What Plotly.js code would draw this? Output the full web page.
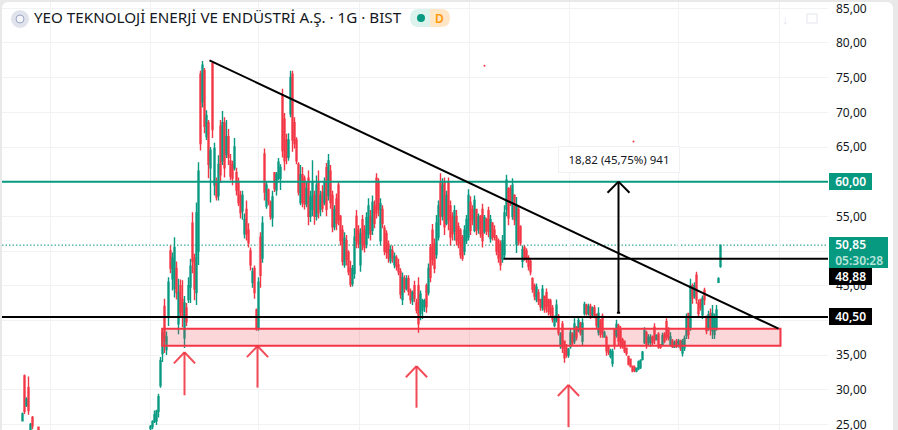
<!DOCTYPE html>
<html><head><meta charset="utf-8">
<script src="https://cdn.plot.ly/plotly-3.0.1.min.js"></script>
<style>
html,body{margin:0;padding:0;background:#e9e9ea;overflow:hidden;width:898px;height:430px}
#panel{position:absolute;left:2px;top:2px;width:891px;height:440px;background:#fff;border-radius:6px}
#chart{position:absolute;left:0;top:0;width:898px;height:430px}
</style></head><body>
<div id="panel"></div><div id="chart"></div>
<script>
// ---- values ----
const titleText = "YEO TEKNOLOJİ ENERJİ VE ENDÜSTRİ A.Ş. · 1G · BIST";
const measureText = "18,82 (45,75%) 941";

const earlySlots = [-64,-63,-62,-61,-60,-59,-56];
const earlyOpen  = [25.5,32,27.7,30.3,24.2,26,24.6];
const earlyHigh  = [26.7,32.2,28.9,31.9,25.2,26.2,24.7];
const earlyLow   = [25.4,26.5,27.5,26.4,24,24.3,24.1];
const earlyClose = [26.5,26.9,28.6,27,25,24.8,24.2];

const opens = [
24.4,24.7,25.4,25.5,26.9,30.6,35.2,42,35.8,40.6,
50,46,44.6,47.5,39.5,45,43,37.5,41.8,43,
44.8,54,49,44,50,75.5,71.5,76,66.5,68.5,
62,77,59.5,60,58,68,63,68.5,64,66.5,
63,62.5,62,61.3,60,58,55.8,52.5,56,53,
50,45.5,47.5,41.5,39,52,49,64,56.5,58.8,
57,54.8,61.3,58.8,60.5,60.5,72.5,69,66,63.5,
69.8,75.5,68.5,66,62.5,57,61,60.5,56.8,60.5,
55,56,58,55,60,56,58.5,57,62,58,
61.5,58,53.5,57.5,59.5,55,53,48,51.5,49.8,
47.5,45.3,46.8,55,53,48,54.5,53,51,52.5,
55,53,56.5,60.5,60,51.5,56,53.3,52.5,51,
48.6,50,48,49,48,47,43,46,44.6,46,
44.2,42.8,45,42.5,45,41,41.5,42,45,44,
50.5,53,51,49.5,52,60,55,60,54,60,
56.5,55,52.8,55,53.5,53,52,50,51.5,52,
57,56,53,56,53.2,55,56,52.8,54.5,55.8,
51.8,54,53,52,51.5,51,48.8,49.5,56,59,
59,55,58,51,56,53.5,48.5,50.5,50,49,
48.5,46,45,43,44,43,41.8,43.5,44,43,
42.8,41.8,39.3,40,40.6,36.3,39.5,37,36,35,
36.2,38,37,39,38.6,39.6,37,41,42.2,41,
42,40.8,41.8,40.8,38.3,40,40.6,37.6,37.5,36.2,
34.8,33.8,38.5,37.8,39.2,38.5,37.2,37,36,34.8,
34.4,33.4,33.2,32.7,33,33.2,34.4,36.8,38.2,36.8,
36.8,37.6,39,37.2,38,36.5,36.5,38,39.8,38.5,
36.5,37,36.2,37,36.3,37,35.3,36,37.8,41,
39,45,43.5,46.5,42.5,43,40.8,44.3,40.5,38.8,
41,38.5,38,39,45.5,47.8];

const highs = [
24.9,25.6,27,27.1,29.4,34.7,38.9,43.1,38.4,46.2,
50.8,49.8,52,48.5,46,45.9,45.8,43.5,42.5,46.2,
48.9,55.6,49.6,57,62.8,76,77.4,76.4,70.3,68.9,
65,77.4,65.6,60.6,63.8,68.9,70.2,69.3,68.9,67.6,
64,63,66.3,62,60.6,58.7,58.7,55.4,57.3,54,
50.5,47.6,47.9,41.7,46.2,52.7,55,64.8,60,59,
57.3,58.7,61.4,61.4,63.4,62.5,73.4,69.9,66.9,67,
76,76,69.3,66.4,62.8,62.4,62.1,60.9,59.9,61.6,
58.7,63.1,58.7,60.9,61.6,58.7,59.5,60.6,62.7,64,
62.4,58.7,56.6,58.3,60,55.2,53.7,52.7,52.3,50.1,
48.6,48,53.3,55.9,53.7,53.3,55.2,53.7,55.6,57.6,
55.9,58,57.3,61.2,60.5,57.6,56.6,53.7,53,51.5,
50.8,50.8,49.8,49.4,48.9,47.5,46.9,46.5,46.5,46.5,
44.6,44.3,45.7,43.1,46.2,44.3,43.1,43.1,45.3,48.2,
51,53.9,51.8,55.2,57.3,61.2,60.5,60.6,58.7,60.6,
57.3,55.6,56.6,55.9,54.1,53.3,52.3,53.7,55.2,58.9,
57.9,56.6,58,56.1,55.4,55.2,56.8,55.2,54.8,56.4,
55.2,54.2,53.7,52.3,51.8,51.5,52.3,56.6,61,59.2,
59.5,60.5,58.2,57.8,56.6,53.7,50.8,50.8,50.4,49.4,
48.9,46.2,45.3,45.3,44.5,43.1,45.1,43.6,44.6,43.1,
43.1,42.2,40.7,43,40.9,38.3,39.9,37.1,36.6,36,
38.8,38.3,40.3,39.2,40.4,39.8,40.3,42.7,42.4,42.4,
42.4,42,42.2,41,41.9,40.2,41,38.5,37.8,36.5,
35.9,35.9,38.8,40.1,39.5,39.2,37.5,37.1,36,34.9,
34.5,33.5,33.5,33.2,34.2,34.4,35.6,39,38.5,38,
38,37.8,39.6,38,38.3,36.6,38.2,38.3,40.3,39,
38.3,37.3,37.1,37.3,37.3,37.2,37.3,37.8,41,41.1,
46,45.3,45.5,47,43,43.1,43.6,44.7,40.7,41.4,
41.7,42.2,41,42.2,46.2,50.85];

const lows = [
24.2,24.3,25.2,24.9,26,30.3,34,35.3,35,39.2,
46.8,44.3,43.3,43,38,40.4,39,36,39.2,42.5,
42.5,46.8,42.9,42.2,48,64.5,70.7,67,66,60.5,
57,66.3,58,57.3,57.3,59.8,62.4,60.6,63.4,62.4,
60.2,59.5,61.6,58,56.5,54.7,54.5,51.8,51.5,50.5,
47.2,44.7,43.1,38.5,38.5,44.7,48.3,57.3,56.1,56.6,
54.5,53.5,58.5,58,60.2,58.8,63.5,61.6,62.5,63,
69.3,64.3,64.8,62.5,58,56.6,56.3,56,56.3,53.7,
54.2,55,53.8,54.4,54.7,55,55.6,56.6,55,57.3,
56.1,52.7,53,53,53.7,50.8,47.9,47.6,47.9,46.5,
44.8,44.9,46,50.4,50.4,47,50.1,49.8,50.4,51.8,
51.5,52.3,53.3,54.7,55,50.8,53.3,49.4,48.9,48.3,
48.2,48.3,47.5,47.2,46.5,43.1,42.2,44,44.3,43.6,
42.4,42.2,42.6,41,38.2,40,40.2,41.2,41.1,43.6,
45.5,47.9,46.8,48.9,51.5,53.7,54.4,52.3,53.7,53,
50.8,51.5,51.5,50.8,50.4,48.9,48.6,49.4,51,51.5,
52.3,53.7,52.7,52.3,52.5,51.9,50.5,52.5,52.3,52,
51.2,51.5,51.5,49.4,48.3,47.2,48.3,48.9,55,53.7,
56.5,54.5,53.7,49.7,50.8,50.8,47.6,48.6,48.3,47.2,
46.5,44,42.9,42.6,42.2,41.4,41.4,41.1,41.1,40.7,
40.4,39.7,39,39.7,37.8,35.9,35.3,33.9,34.6,34.6,
35.9,36.3,36.6,37.1,38.3,37.8,36.4,40.7,40.7,40.7,
40.2,40.5,40.3,38.8,37.8,37.5,37.5,37.5,34.9,35,
34.5,33.3,35.8,37.5,36.3,35.9,35.9,35.3,34.9,33.5,
33.2,32.5,32.5,32.5,32.8,33,34.2,36.6,35.9,36.4,
36.2,36.4,36.6,37.1,35.9,35.9,36.3,36.7,37.1,37.1,
36.2,36,36,36,36.1,35.6,34.8,35.6,37.3,37.3,
38.5,42.4,43.1,42.4,40.4,41.4,40.2,42.2,38,38.5,
37.8,37.3,37.3,38.5,45.4,47.6];

const closes = [
24.7,25.4,26.4,26.9,29,34.2,38.2,37,37.6,45.5,
47.5,49,50.5,44,44,41.2,40.5,42.5,39.8,45,
47.8,48.5,44.5,55.5,61.5,65.5,76.8,68,69.5,62.5,
64.5,67.5,64.8,57.8,62.5,61,68.5,62,66.5,63.5,
60.8,60.5,65,58.8,57,55.5,58,54.5,52.5,51.2,
48,47,44,38.9,45.5,46.5,54,58.5,59.5,57.2,
55,57.8,59,61,62.8,62,64.5,63,63.5,66,
75,66,65.5,63,58.5,61,57,56.8,59,55,
57.8,60,55,59.5,55.5,58,56.2,60,56,63,
57,53.5,56,54,54.5,51.5,48.5,51.8,48.8,47,
45.2,47.5,52,51.5,51,52.5,51,50.5,54.8,56.5,
52.5,57,54,55.5,56,56.8,54,50,49.8,49,
50.2,49,49.2,47.8,47,43.8,46.2,44.6,46,44.2,
43,44,43.2,41.5,39.5,43.8,42.8,42.8,42,47.5,
46.2,48.8,47.5,54,56.5,55,59.5,53.5,58,54.5,
52,52.5,55.8,51.5,51,49.5,49,53,54.5,58,
53,54.5,57.3,53,55,52.5,51.5,54.8,53,52.8,
54.5,52,52,50,49,48,51.5,55.5,60.2,54.8,
57,59.5,54.5,56.5,51.5,51.2,50.2,49,48.8,47.8,
47,44.5,43.5,44.8,42.8,42,44.5,41.6,42,41.3,
41,40.2,40.4,42.2,38.2,38,36,34.6,35,35.8,
38.2,36.8,39.5,37.6,40,38.2,39.6,42.3,41,42,
40.7,41.8,40.8,39.3,41,38,38.2,38.2,35.6,35.4,
35.6,35.5,36.4,39.4,37,36.4,36.2,35.6,35.2,33.7,
33.4,32.7,32.8,33.1,34,34.2,35.4,38.5,36.5,37.6,
37.5,36.8,37.2,37.8,36.2,36.1,37.8,37,37.6,37.5,
37.6,36.2,36.8,36.3,37,36,37,37.4,40.5,38,
45,43.2,45,43,41,41.8,43.2,43,38.5,40.8,
39,41,40.4,41.5,46,50.85];

const strayX = [167,241.5];
const strayY = [76.7,65.8];

const level60 = 60, level4050 = 40.5, level4888 = 48.88, lastPrice = 50.85;
const trendX = [29.5,314], trendY = [77.5,38.8];
const zoneX = [5.85,315], zoneY = [36.35,38.8];
const measureX = 234, measureY = [41.1,60];
const redArrowX = [17,53.5,133,209];
const redArrowTip = [35.4,36.3,33.4,30.7];
const redArrowTail = [29.2,30.3,27.4,24.6];
const gridX = [-50,0,54,104.5,159.5,209.5,264,314.5];
const priceTicks = [25,30,35,40,45,50,55,60,65,70,75,80,85];
const hiddenTickLabels = [40,50,60];

// ---- drawing ----
const GREEN='#089981', RED='#f23645', INK='#131722';
const FONT='"Noto Sans", sans-serif';
const paperX = px => (px-2)/826;
const paperY = py => 1-(py-2)/428;

const slots = earlySlots.concat(opens.map((_,i)=>i));
const candle = {
  type:'candlestick', x:slots,
  open:earlyOpen.concat(opens), high:earlyHigh.concat(highs),
  low:earlyLow.concat(lows), close:earlyClose.concat(closes),
  increasing:{line:{color:GREEN,width:1.4},fillcolor:GREEN},
  decreasing:{line:{color:RED,width:1.4},fillcolor:RED},
  hoverinfo:'skip', showlegend:false
};
const strays = {type:'scatter',mode:'markers',x:strayX,y:strayY,
  marker:{color:RED,size:2},hoverinfo:'skip',showlegend:false};

const hline=(x0,x1,y,color,width,extra)=>Object.assign({type:'line',xref:'x',yref:'y',x0,x1,y0:y,y1:y,line:{color,width}},extra||{});
const seg=(x0,y0,x1,y1,color,width)=>({type:'line',xref:'x',yref:'y',x0,y0,x1,y1,line:{color,width}});
const xMin=-74.25, xMax=338.75;

const shapes=[
  hline(xMin,xMax,lastPrice,GREEN,1,{layer:'below',line:{color:GREEN,width:1,dash:'1.5px,2px'}}),
  {type:'rect',xref:'x',yref:'y',x0:zoneX[0],x1:zoneX[1],y0:zoneY[0],y1:zoneY[1],
   fillcolor:'rgba(242,54,69,0.2)',line:{color:RED,width:2}},
  hline(xMin,xMax,level60,GREEN,2),
  hline(xMin,xMax,level4050,'#000',2),
  hline(176.5,xMax,level4888,'#000',2),
  seg(trendX[0],trendY[0],trendX[1],trendY[1],'#000',2),
  seg(measureX,measureY[0],measureX,measureY[1],'#000',2),
  seg(measureX-5.5,measureY[1]-1.6,measureX,measureY[1],'#000',2),
  seg(measureX,measureY[1],measureX+5.5,measureY[1]-1.6,'#000',2),
  seg(measureX-0.8,measureY[0],measureX+0.8,measureY[0],'#000',2),
];
redArrowX.forEach((x,i)=>{
  const c='rgba(242,54,69,0.9)';
  shapes.push(seg(x,redArrowTail[i],x,redArrowTip[i],c,2));
  shapes.push(seg(x-5.3,redArrowTip[i]-1.6,x,redArrowTip[i],c,2));
  shapes.push(seg(x,redArrowTip[i],x+5.3,redArrowTip[i]-1.6,c,2));
});
// pill halves with rounded outer ends, in paper fractions
const halfPill=(x0,x1,top,bot,r,leftRound)=>{
  const X=paperX,Y=paperY;
  return leftRound
   ? `M${X(x1)},${Y(top)} L${X(x0+r)},${Y(top)} Q${X(x0)},${Y(top)} ${X(x0)},${Y(top+r)} Q${X(x0)},${Y(bot)} ${X(x0+r)},${Y(bot)} L${X(x1)},${Y(bot)} Z`
   : `M${X(x0)},${Y(top)} L${X(x1-r)},${Y(top)} Q${X(x1)},${Y(top)} ${X(x1)},${Y(top+r)} Q${X(x1)},${Y(bot)} ${X(x1-r)},${Y(bot)} L${X(x0)},${Y(bot)} Z`;
};
// symbol logo, status pill and faint toolbar glyph
shapes.push(
 {type:'circle',xref:'paper',yref:'paper',x0:paperX(11),x1:paperX(29),y0:paperY(28),y1:paperY(10),fillcolor:'#e0e3eb',line:{width:0}},
 {type:'circle',xref:'paper',yref:'paper',x0:paperX(16),x1:paperX(24),y0:paperY(23),y1:paperY(15),fillcolor:'#f4f5f8',line:{color:'#9aa6c4',width:1}},
 {type:'path',xref:'paper',yref:'paper',path:halfPill(410,430,9,27,9,true),fillcolor:'#dcf2ec',line:{width:0}},
 {type:'path',xref:'paper',yref:'paper',path:halfPill(430,450,9,27,9,false),fillcolor:'#ffe6c7',line:{width:0}},
 {type:'circle',xref:'paper',yref:'paper',x0:paperX(417),x1:paperX(425),y0:paperY(22),y1:paperY(14),fillcolor:GREEN,line:{width:0}},
 {type:'rect',xref:'paper',yref:'paper',x0:paperX(807),x1:paperX(817),y0:paperY(23),y1:paperY(14),fillcolor:'rgba(0,0,0,0)',line:{color:'#eceef2',width:1.5}}
);

const PAD='\u00A0\u00A0';
const badge=(text,py,bg,left,width,height)=>({
  xref:'paper',yref:'paper',x:paperX(left),y:paperY(py),xanchor:'left',yanchor:'middle',
  text,showarrow:false,bgcolor:bg,width,height,align:'left',valign:'middle',borderpad:0,borderwidth:0,
  font:{family:FONT,size:12,color:'#fff',weight:600}
});
const annotations=[
  {xref:'x',yref:'paper',x:measureX,y:paperY(159.5),yanchor:'middle',text:measureText,showarrow:false,bgcolor:'#fff',
   bordercolor:'#eff0f3',borderwidth:1,width:118,height:23,font:{family:FONT,size:11.5,color:INK}},
  badge(PAD+'60,00',181.5,GREEN,829,43,17),
  badge(PAD+'48,88',276.5,'#000',829,43,17),
  badge(PAD+'40,50',316.5,'#000',829,43,17),
  badge(PAD+'50,85<br>'+PAD+'<span style="color:#b9e4da">05:30:28</span>',252.5,GREEN,829,59,31),
  {xref:'paper',yref:'paper',x:paperX(439),y:paperY(18),xanchor:'center',yanchor:'middle',text:'D',showarrow:false,font:{family:FONT,size:12,color:'#ff9800',weight:600}},
  {xref:'paper',yref:'paper',x:paperX(785),y:paperY(19),xanchor:'center',yanchor:'middle',text:'↓',showarrow:false,font:{family:FONT,size:13,color:'#e6e8ee'}},
];

const layout={
  width:898,height:430,
  margin:{l:2,r:70,t:2,b:0,pad:0},
  paper_bgcolor:'rgba(0,0,0,0)',plot_bgcolor:'rgba(0,0,0,0)',
  separators:', ',
  showlegend:false,dragmode:false,
  title:{text:titleText,x:paperX(34),xref:'paper',xanchor:'left',y:1-18/430,yref:'container',yanchor:'middle',
         font:{family:FONT,size:15.2,color:INK}},
  xaxis:{type:'linear',range:[xMin,xMax],rangeslider:{visible:false},tickmode:'array',tickvals:gridX,
         showticklabels:false,ticks:'',showgrid:true,gridcolor:'#f1f2f4',gridwidth:1,zeroline:false,showline:false},
  yaxis:{range:[24.19,85.91],side:'right',tickmode:'array',tickvals:priceTicks,
         ticktext:priceTicks.map(v=>hiddenTickLabels.includes(v)?'':v.toFixed(2).replace('.',',')),ticks:'',
         ticklabeloverflow:'allow',
         ticklabelstandoff:7,showgrid:true,gridcolor:'#f1f2f4',gridwidth:1,zeroline:false,showline:false,
         tickfont:{family:FONT,size:12,color:INK}},
  shapes,annotations
};
Plotly.newPlot('chart',[candle,strays],layout,{displayModeBar:false,staticPlot:true});
</script></body></html>
